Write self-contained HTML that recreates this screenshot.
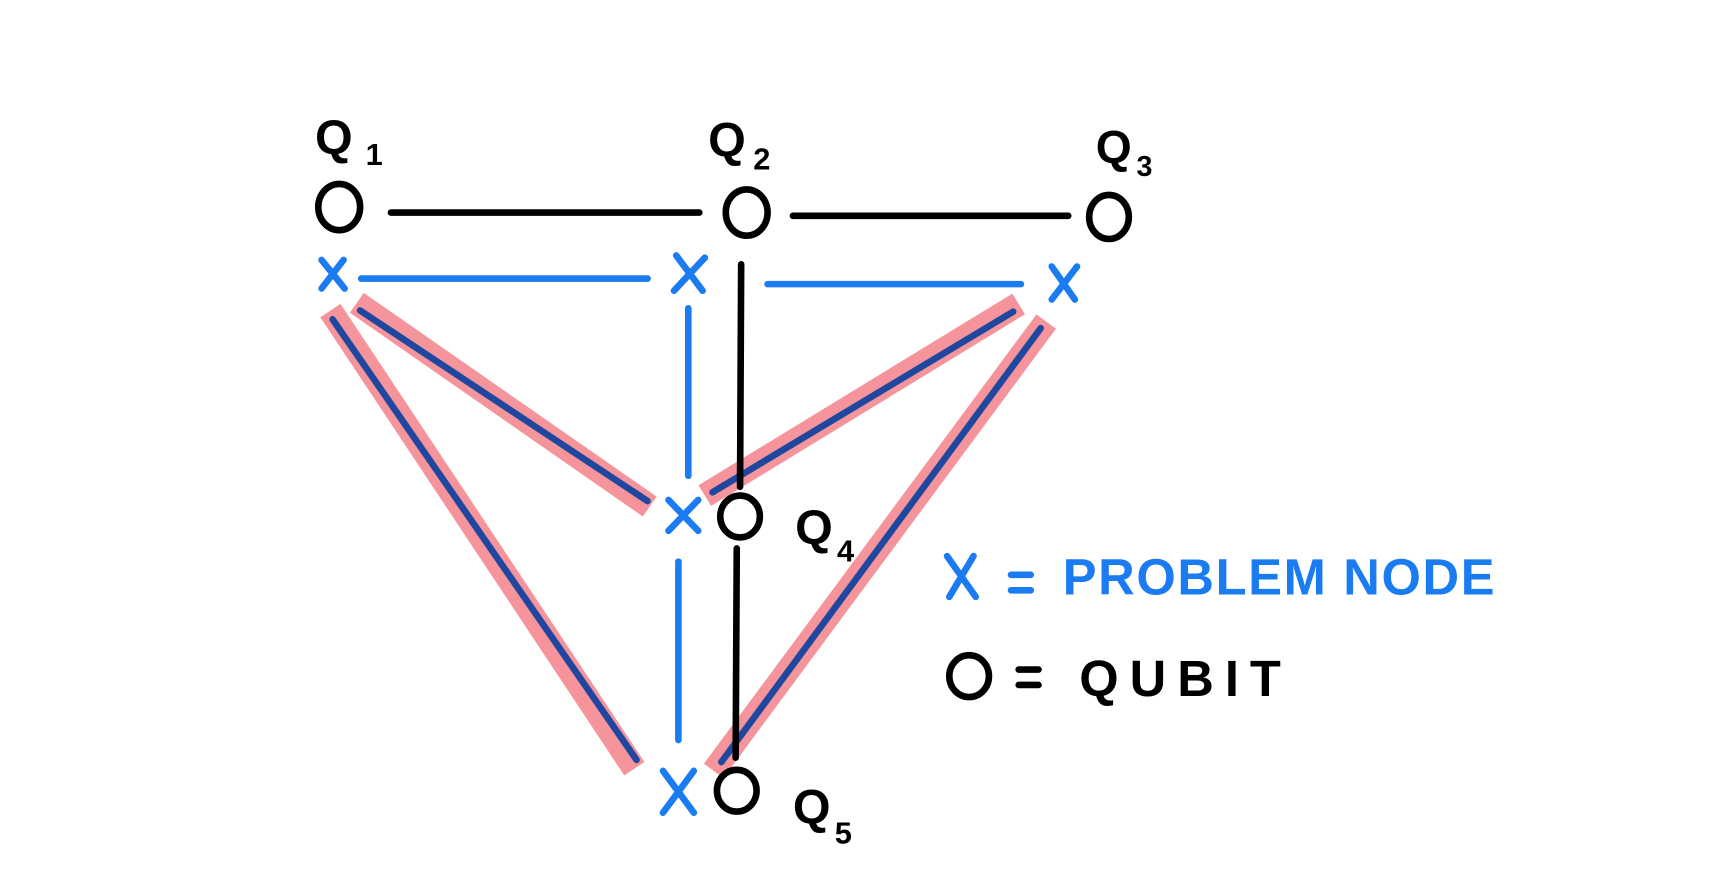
<!DOCTYPE html>
<html><head><style>
html,body{margin:0;padding:0;background:#fff;width:1718px;height:892px;overflow:hidden}
svg{display:block}
text{font-family:"Liberation Sans",sans-serif}
</style></head><body>
<svg width="1718" height="892" viewBox="0 0 1560 810" preserveAspectRatio="none" xmlns="http://www.w3.org/2000/svg">
<rect width="1560" height="810" fill="#fff"/>
<g stroke="#f4838a" stroke-width="22" stroke-linecap="butt" opacity="0.85">
<line x1="324" y1="275" x2="590" y2="460"/>
<line x1="300" y1="282" x2="576" y2="698"/>
<line x1="925" y1="276" x2="640" y2="450"/>
<line x1="950" y1="292" x2="648" y2="700"/>
</g>
<g stroke="#1f47a0" stroke-width="6" stroke-linecap="round">
<line x1="327" y1="282" x2="588" y2="455"/>
<line x1="302" y1="290" x2="578" y2="690"/>
<line x1="920" y1="283" x2="647" y2="447"/>
<line x1="945" y1="298" x2="655" y2="692"/>
</g>
<g stroke="#000" stroke-width="6" stroke-linecap="round">
<line x1="355" y1="193" x2="635" y2="193"/>
<line x1="720" y1="196" x2="970" y2="196"/>
<line x1="673" y1="240" x2="672" y2="442"/>
<line x1="669" y1="498" x2="668" y2="688"/>
</g>
<g stroke="#1a7cf0" stroke-width="6" stroke-linecap="round">
<line x1="328" y1="253" x2="588" y2="253"/>
<line x1="697" y1="258" x2="927" y2="258"/>
<line x1="625" y1="280" x2="625" y2="432"/>
<line x1="616" y1="510" x2="616" y2="672"/>
</g>
<g fill="none" stroke="#000" stroke-width="6">
<ellipse cx="308" cy="188" rx="19" ry="21"/>
<ellipse cx="678" cy="193" rx="19" ry="21"/>
<ellipse cx="1007" cy="197" rx="18" ry="20"/>
<ellipse cx="672" cy="469" rx="18" ry="19"/>
<ellipse cx="669" cy="718" rx="18" ry="19"/>
<ellipse cx="880" cy="614" rx="18" ry="19"/>
</g>
<g stroke="#1a7cf0" stroke-width="6" stroke-linecap="round">
<path d="M292 236 L313 262 M312 236 L292 262"/>
<path d="M614 232 L638 264 M640 234 L612 264"/>
<path d="M955 242 L976 272 M978 242 L955 272"/>
<path d="M607 454 L634 482 M634 454 L607 482"/>
<path d="M602 700 L630 738 M630 700 L602 738"/>
<path d="M860 505 L886 542 M884 505 L862 542"/>
<path d="M918 522 L936 522 M918 536 L936 536"/>
</g>
<g stroke="#000" stroke-width="6" stroke-linecap="round">
<path d="M925 608 L943 608 M925 622 L943 622"/>
</g>
<g fill="#000" font-weight="bold">
<text x="286" y="140" font-size="44">Q</text><text x="332" y="150" font-size="28">1</text>
<text x="643" y="142" font-size="44">Q</text><text x="684" y="154" font-size="28">2</text>
<text x="995" y="148" font-size="42">Q</text><text x="1032" y="160" font-size="26">3</text>
<text x="722" y="494" font-size="44">Q</text><text x="760" y="510" font-size="28">4</text>
<text x="720" y="748" font-size="44">Q</text><text x="758" y="766" font-size="28">5</text>
<text x="980" y="632" font-size="46" letter-spacing="10">QUBIT</text>
</g>
<text x="965" y="540" font-size="46" font-weight="bold" fill="#1a7cf0" letter-spacing="1.5">PROBLEM NODE</text>
</svg>
</body></html>
